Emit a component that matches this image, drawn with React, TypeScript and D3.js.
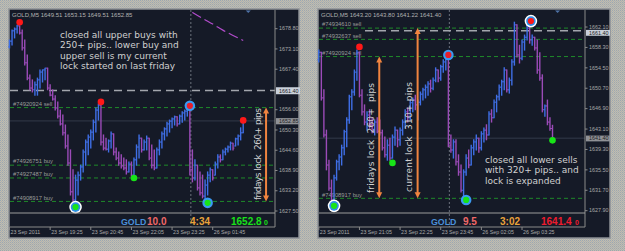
import React from "react";
import * as d3 from "d3";

const WIDTH = 625;
const HEIGHT = 251;

// ---------------- LEFT CHART (GOLD,M5 - friday lock) ----------------
const leftOpen = [1673.7, 1675.3, 1678.2, 1678.7, 1679.6, 1677.6, 1673.4, 1669.2, 1664.9, 1662.1,
  1661.6, 1663.0, 1664.4, 1666.6, 1667.2, 1667.7, 1662.1, 1660.1, 1659.0, 1656.5,
  1654.2, 1652.0, 1649.5, 1645.8, 1641.0, 1632.9, 1630.6, 1636.2, 1637.6, 1639.9,
  1644.1, 1646.9, 1648.3, 1649.7, 1652.5, 1655.9, 1657.3, 1646.9, 1645.2, 1644.9,
  1647.2, 1649.2, 1644.1, 1642.4, 1641.0, 1640.2, 1639.6, 1638.5, 1640.7, 1637.6,
  1641.9, 1645.5, 1648.0, 1644.7, 1646.9, 1648.0, 1642.4, 1640.4, 1639.6, 1644.7,
  1646.9, 1649.2, 1650.6, 1652.0, 1652.8, 1653.4, 1654.0, 1652.0, 1654.2, 1655.1,
  1655.6, 1657.3, 1639.1, 1636.8, 1640.4, 1634.0, 1632.6, 1631.7, 1634.8, 1637.6,
  1639.1, 1636.8, 1640.7, 1642.7, 1641.9, 1644.1, 1644.9, 1645.5, 1646.6, 1645.2,
  1647.8, 1648.6, 1649.51];
const leftHigh = [1675.6, 1678.4, 1679.0, 1679.8, 1679.6, 1678.4, 1675.6, 1671.4, 1665.8, 1664.4,
  1663.8, 1664.9, 1667.2, 1667.2, 1667.7, 1667.7, 1663.0, 1661.6, 1659.9, 1658.2,
  1655.9, 1654.5, 1651.7, 1648.9, 1644.7, 1639.1, 1637.6, 1638.5, 1640.4, 1644.7,
  1647.5, 1648.9, 1650.3, 1653.1, 1656.5, 1657.6, 1657.6, 1648.9, 1648.0, 1647.5,
  1649.7, 1649.2, 1645.2, 1644.1, 1643.3, 1642.4, 1641.9, 1641.3, 1641.3, 1642.4,
  1646.1, 1648.9, 1648.0, 1647.5, 1648.6, 1648.0, 1646.1, 1644.7, 1645.2, 1647.5,
  1649.7, 1650.9, 1652.5, 1653.1, 1653.7, 1654.2, 1654.0, 1654.5, 1655.4, 1655.9,
  1657.6, 1657.6, 1644.7, 1641.9, 1640.4, 1638.5, 1637.6, 1636.2, 1638.5, 1639.6,
  1639.1, 1641.3, 1643.3, 1643.3, 1644.7, 1645.2, 1645.8, 1646.9, 1646.6, 1648.0,
  1648.9, 1650.9, 1653.15];
const leftLow = [1673.4, 1674.2, 1676.2, 1677.6, 1677.3, 1672.8, 1668.6, 1664.4, 1661.6, 1661.0,
  1660.1, 1660.1, 1662.1, 1663.8, 1664.4, 1661.6, 1659.9, 1658.7, 1655.9, 1653.7,
  1651.7, 1648.9, 1645.2, 1640.4, 1632.0, 1629.2, 1628.6, 1632.0, 1636.2, 1638.5,
  1640.4, 1643.3, 1645.2, 1647.5, 1649.7, 1653.1, 1646.1, 1644.7, 1644.7, 1644.1,
  1645.2, 1643.3, 1641.9, 1640.4, 1639.6, 1639.1, 1637.9, 1638.5, 1637.3, 1637.6,
  1640.4, 1642.4, 1644.1, 1644.7, 1644.7, 1641.9, 1639.6, 1639.1, 1639.6, 1643.3,
  1645.2, 1647.5, 1648.6, 1649.7, 1650.9, 1651.7, 1651.4, 1652.0, 1652.5, 1653.1,
  1654.2, 1637.6, 1635.7, 1636.2, 1633.4, 1632.0, 1631.2, 1629.8, 1632.0, 1635.7,
  1636.2, 1637.6, 1639.6, 1641.3, 1641.9, 1643.3, 1644.1, 1644.7, 1644.7, 1645.8,
  1646.1, 1647.5, 1649.51];
const leftClose = [1675.3, 1678.2, 1678.7, 1679.6, 1677.6, 1673.4, 1669.2, 1664.9, 1662.1, 1661.6,
  1663.0, 1664.4, 1666.6, 1667.2, 1667.7, 1662.1, 1660.1, 1659.0, 1656.5, 1654.2,
  1652.0, 1649.5, 1645.8, 1641.0, 1632.9, 1630.6, 1636.2, 1637.6, 1639.9, 1644.1,
  1646.9, 1648.3, 1649.7, 1652.5, 1655.9, 1657.3, 1646.9, 1645.2, 1644.9, 1647.2,
  1649.2, 1644.1, 1642.4, 1641.0, 1640.2, 1639.6, 1638.5, 1640.7, 1637.6, 1641.9,
  1645.5, 1648.0, 1644.7, 1646.9, 1648.0, 1642.4, 1640.4, 1639.6, 1644.7, 1646.9,
  1649.2, 1650.6, 1652.0, 1652.8, 1653.4, 1654.0, 1652.0, 1654.2, 1655.1, 1655.6,
  1657.3, 1639.1, 1636.8, 1640.4, 1634.0, 1632.6, 1631.7, 1634.8, 1637.6, 1639.1,
  1636.8, 1640.7, 1642.7, 1641.9, 1644.1, 1644.9, 1645.5, 1646.6, 1645.2, 1647.8,
  1648.6, 1649.5, 1652.85];
// 1661.70 is hidden behind the 1661.40 price box in the reference
const leftPriceTicks = [1678.8, 1673.1, 1667.4, 1656.0, 1650.3, 1644.6, 1638.9, 1633.2, 1627.5];
const leftTimeIndex = [0, 16, 32, 48, 64, 80];
const leftTimeLabels = ["23 Sep 2011", "23 Sep 19:25", "23 Sep 20:45", "23 Sep 22:05", "23 Sep 23:25", "26 Sep 01:45"];
const leftOrderNames = ["#74920924 sell", "#74926751 buy", "#74927487 buy", "#74908917 buy"];
const leftOrderPrices = [1656.6, 1640.4, 1636.8, 1630.2];
const leftMarkerIndex = [4, 36, 26, 49, 71, 78, 92];
const leftMarkerPrice = [1680.6, 1658.2, 1628.6, 1636.8, 1657.1, 1629.8, 1653.0];
const leftMarkerKind = ["red", "red", "whiteGreen", "green", "blueRed", "blueGreen", "red"];
const leftMaIndex = [72, 76, 80, 84, 88, 92];
const leftMaValue = [1683.4, 1681.7, 1680.1, 1678.4, 1676.9, 1675.5];
const leftComment = ["closed all upper buys with", "250+ pips.. lower buy and", "upper sell is my current", "lock started on last friday"];

// ---------------- RIGHT CHART (GOLD,M5 - expanded lock) ----------------
const rightOpen = [1656.0, 1657.4, 1648.9, 1642.0, 1636.4, 1632.1, 1629.9, 1634.0, 1637.0, 1637.9,
  1639.6, 1642.6, 1644.8, 1649.1, 1650.0, 1653.7, 1657.4, 1649.4, 1646.3, 1644.4,
  1645.7, 1643.9, 1642.9, 1644.4, 1642.7, 1642.4, 1639.6, 1638.3, 1640.1, 1637.7,
  1641.6, 1642.9, 1641.1, 1642.9, 1644.4, 1646.3, 1645.2, 1648.0, 1648.5, 1647.6,
  1648.1, 1649.6, 1650.4, 1650.9, 1651.5, 1650.7, 1652.2, 1654.1, 1652.6, 1654.7,
  1655.6, 1656.1, 1640.1, 1639.2, 1640.7, 1637.0, 1635.1, 1631.7, 1635.1, 1637.7,
  1636.4, 1639.6, 1640.7, 1641.4, 1639.6, 1642.2, 1642.9, 1642.0, 1645.9, 1645.2,
  1648.1, 1649.1, 1650.9, 1651.9, 1654.1, 1650.4, 1652.2, 1655.6, 1662.5, 1656.9,
  1656.3, 1659.3, 1660.2, 1661.9, 1659.7, 1660.2, 1658.2, 1654.1, 1652.6, 1646.7,
  1647.4, 1644.4, 1643.2];
const rightHigh = [1657.8, 1657.4, 1650.4, 1642.9, 1637.3, 1633.6, 1634.5, 1637.3, 1638.3, 1640.1,
  1642.9, 1645.2, 1649.4, 1650.4, 1654.1, 1657.8, 1657.4, 1650.4, 1647.6, 1646.3,
  1646.7, 1645.2, 1644.8, 1645.2, 1644.8, 1642.9, 1641.6, 1641.1, 1641.4, 1642.0,
  1643.5, 1642.9, 1643.3, 1644.8, 1646.7, 1647.0, 1648.5, 1648.9, 1649.4, 1648.5,
  1650.0, 1650.7, 1651.3, 1651.9, 1652.2, 1652.6, 1654.5, 1654.1, 1655.0, 1656.0,
  1656.5, 1656.3, 1642.0, 1641.1, 1641.1, 1638.3, 1636.4, 1635.5, 1638.3, 1639.2,
  1640.1, 1641.1, 1642.0, 1641.4, 1642.6, 1643.3, 1643.9, 1646.3, 1646.7, 1648.5,
  1649.4, 1651.3, 1652.2, 1654.5, 1654.1, 1652.6, 1656.0, 1663.0, 1662.5, 1658.7,
  1659.7, 1660.6, 1662.5, 1662.8, 1660.6, 1660.2, 1659.7, 1657.3, 1653.2, 1647.6,
  1648.5, 1645.2, 1643.8];
const rightLow = [1655.6, 1648.5, 1641.6, 1635.5, 1631.7, 1629.3, 1629.5, 1633.6, 1635.5, 1636.4,
  1638.3, 1639.8, 1644.2, 1646.7, 1649.4, 1652.2, 1649.1, 1645.7, 1643.9, 1642.9,
  1643.3, 1642.4, 1642.0, 1642.4, 1642.0, 1639.2, 1637.9, 1637.3, 1637.3, 1637.7,
  1640.1, 1639.8, 1640.1, 1642.0, 1643.3, 1644.4, 1644.8, 1646.3, 1646.7, 1644.8,
  1647.6, 1648.5, 1648.9, 1649.4, 1650.0, 1650.4, 1651.9, 1651.9, 1652.2, 1653.7,
  1654.1, 1639.8, 1638.8, 1637.7, 1636.4, 1634.5, 1631.4, 1630.3, 1634.5, 1635.9,
  1636.4, 1638.3, 1639.2, 1638.8, 1639.2, 1640.7, 1641.1, 1642.0, 1644.4, 1645.2,
  1646.3, 1648.5, 1649.4, 1650.4, 1650.0, 1649.8, 1651.3, 1655.0, 1656.5, 1655.4,
  1656.0, 1657.8, 1659.7, 1659.1, 1658.7, 1657.8, 1653.5, 1652.2, 1646.3, 1645.5,
  1643.9, 1642.9, 1641.22];
const rightClose = [1657.4, 1648.9, 1642.0, 1636.4, 1632.1, 1629.9, 1634.0, 1637.0, 1637.9, 1639.6,
  1642.6, 1644.8, 1649.1, 1650.0, 1653.7, 1657.4, 1649.4, 1646.3, 1644.4, 1645.7,
  1643.9, 1642.9, 1644.4, 1642.7, 1642.4, 1639.6, 1638.3, 1640.1, 1637.7, 1641.6,
  1642.9, 1641.1, 1642.9, 1644.4, 1646.3, 1645.2, 1648.0, 1648.5, 1647.6, 1648.1,
  1649.6, 1650.4, 1650.9, 1651.5, 1650.7, 1652.2, 1654.1, 1652.6, 1654.7, 1655.6,
  1656.1, 1640.1, 1639.2, 1640.7, 1637.0, 1635.1, 1631.7, 1635.1, 1637.7, 1636.4,
  1639.6, 1640.7, 1641.4, 1639.6, 1642.2, 1642.9, 1642.0, 1645.9, 1645.2, 1648.1,
  1649.1, 1650.9, 1651.9, 1654.1, 1650.4, 1652.2, 1655.6, 1662.5, 1656.9, 1656.3,
  1659.3, 1660.2, 1661.9, 1659.7, 1660.2, 1658.2, 1654.1, 1652.6, 1646.7, 1647.4,
  1644.4, 1643.2, 1641.4];
const rightPriceTicks = [1662.1, 1658.3, 1654.5, 1650.7, 1646.9, 1643.1, 1639.3, 1635.5, 1631.7, 1627.9];
const rightTimeIndex = [0, 16, 32, 48, 64, 80];
const rightTimeLabels = ["23 Sep 2011", "23 Sep 21:05", "23 Sep 22:25", "23 Sep 23:45", "26 Sep 02:05", "26 Sep 03:25"];
const rightOrderNames = ["#74934610 sell", "#74932637 sell", "#74920924 sell", "#74908917 buy"];
const rightOrderPrices = [1661.9, 1659.8, 1656.6, 1630.2];
const rightMarkerIndex = [16, 6, 29, 51, 58, 83.5, 92];
const rightMarkerPrice = [1658.4, 1628.8, 1636.8, 1656.9, 1629.9, 1663.2, 1641.0];
const rightMarkerKind = ["red", "whiteGreen", "green", "blueRed", "blueGreen", "whiteRed", "green"];
const rightComment = ["closed all lower sells", "with 320+ pips.. and", "lock is expanded"];

const BG = "#151a27";
const BLUE = "#3f6fe6";
const PURPLE = "#9b4bb8";
const GREEN_LINE = "#1f8a2a";
const TXT = "#d0d0d0";
const AXIS_TXT = "#a9a9a9";
const ARROW = "#f0843f";
const SMALL = "'Liberation Sans', Arial, sans-serif";
const SANS = "'DejaVu Sans', Verdana, sans-serif";

type Box = { price: number; label: string; light: boolean; top: number; h: number; base: number };

type PanelProps = {
  px: number; pw: number; axisX: number;
  xRange: [number, number]; yDomain: [number, number];
  open: number[]; high: number[]; low: number[]; close: number[];
  priceTicks: number[]; timeIndex: number[]; timeLabels: string[];
  header: string;
  orderNames: string[]; orderPrices: number[];
  lockLevel: number; lockStart: number;
  boxes: Box[];
  markerIndex: number[]; markerPrice: number[]; markerKind: string[];
  separatorIndex: number;
  arrows: { idx: number; top: number; bottom: number }[];
  vtexts: { x: number; y: number; text: string; len: number }[];
  comment: string[]; commentX: number; commentY: number; commentDy: number;
  info: { t: string; x: number; color: string; size: number }[];
  maIndex?: number[]; maValue?: number[];
};

function Marker({ x, y, kind }: { x: number; y: number; kind: string }) {
  if (kind === "red") return <circle cx={x} cy={y} r={3.3} fill="#ff1818" />;
  if (kind === "green") return <circle cx={x} cy={y} r={3.3} fill="#18e418" />;
  if (kind === "whiteGreen" || kind === "whiteRed")
    return (
      <g>
        <circle cx={x} cy={y} r={6.3} fill="#ffffff" />
        <circle cx={x} cy={y} r={4.8} fill="#2f8fe8" />
        <circle cx={x} cy={y} r={3.1} fill={kind === "whiteGreen" ? "#18e418" : "#ff1818"} />
      </g>
    );
  return (
    <g>
      <circle cx={x} cy={y} r={5.3} fill="#3a9af2" />
      <circle cx={x} cy={y} r={3.1} fill={kind === "blueGreen" ? "#18e418" : "#e81f2a"} />
    </g>
  );
}

function Panel(p: PanelProps) {
  const top = 10, bottom = 227, infoY = 213;
  const xs = d3.scaleLinear().domain([0, p.close.length - 1]).range(p.xRange);
  const ys = d3.scaleLinear().domain(p.yDomain).range([bottom, top]);
  const left = p.px + 1;
  const ma = p.maIndex && p.maValue
    ? d3.line<number>().x((d) => xs(d)).y((_, i) => ys(p.maValue![i])).curve(d3.curveMonotoneX)(p.maIndex)
    : null;
  const last = p.close[p.close.length - 1];
  return (
    <g>
      <rect x={p.px} y={9} width={p.pw} height={229} fill={BG} stroke="#8d9196" strokeWidth={1.5} />
      {/* period separator */}
      <line x1={xs(p.separatorIndex) + 1} x2={xs(p.separatorIndex) + 1} y1={top} y2={bottom}
        stroke="#6c717c" strokeWidth={1} strokeDasharray="2,2" />
      {/* order lines */}
      {p.orderPrices.map((v, i) => (
        <g key={"o" + i}>
          <line x1={left} x2={p.axisX} y1={ys(v)} y2={ys(v)} stroke={GREEN_LINE} strokeWidth={1} strokeDasharray="4,3" />
          <text x={p.px + 4} y={ys(v) - 1.8} fontFamily={SMALL} fontSize={5.8} fill="#9a9a9a">{p.orderNames[i]}</text>
        </g>
      ))}
      {/* lock level */}
      <line x1={p.lockStart} x2={p.axisX} y1={ys(p.lockLevel)} y2={ys(p.lockLevel)} stroke="#a3a6ad"
        strokeWidth={1.4} strokeDasharray="8,5" />
      {/* bid line */}
      <line x1={left} x2={p.axisX} y1={ys(last)} y2={ys(last)} stroke="#333a4a" strokeWidth={1} />
      {/* bars */}
      {p.close.map((c, i) => {
        const x = xs(i);
        const o = Math.max(p.low[i], Math.min(p.high[i], p.open[i]));
        const col = c >= p.open[i] ? BLUE : PURPLE;
        return (
          <g key={"b" + i} stroke={col}>
            <line x1={x} x2={x} y1={ys(p.high[i]) - 0.5} y2={ys(p.low[i]) + 0.5} strokeWidth={1.4} />
            <line x1={x - 1.4} x2={x} y1={ys(o)} y2={ys(o)} strokeWidth={1} />
            <line x1={x} x2={x + 1.4} y1={ys(c)} y2={ys(c)} strokeWidth={1} />
          </g>
        );
      })}
      {ma && <path d={ma} fill="none" stroke="#b24ccc" strokeWidth={1.2} strokeDasharray="10,4" />}
      {/* markers */}
      {p.markerIndex.map((mi, i) => (
        <Marker key={"m" + i} x={xs(mi)} y={ys(p.markerPrice[i])} kind={p.markerKind[i]} />
      ))}
      {/* arrows */}
      {p.arrows.map((a, i) => {
        const x = xs(a.idx);
        const y1 = ys(a.top), y2 = ys(a.bottom);
        return (
          <g key={"a" + i} fill={ARROW} stroke="none">
            <line x1={x} x2={x} y1={y1 + 4} y2={y2 - 4} stroke={ARROW} strokeWidth={2} />
            <path d={`M${x},${y1} L${x - 3},${y1 + 6} L${x + 3},${y1 + 6} Z`} />
            <path d={`M${x},${y2} L${x - 3},${y2 - 6} L${x + 3},${y2 - 6} Z`} />
          </g>
        );
      })}
      {/* vertical texts */}
      {p.vtexts.map((v, i) => (
        <text key={"v" + i} transform={`translate(${v.x},${v.y}) rotate(-90)`} fontFamily={SANS}
          fontSize={9} fill={TXT} textLength={v.len} lengthAdjust="spacing" style={{ whiteSpace: "pre" }}>
          {v.text}
        </text>
      ))}
      {/* comment */}
      {p.comment.map((t, i) => (
        <text key={"c" + i} x={p.commentX} y={p.commentY + i * p.commentDy} fontFamily={SANS} fontSize={9} fill={TXT}>
          {t}
        </text>
      ))}
      {/* header */}
      <text x={p.px + 3} y={17} fontFamily={SMALL} fontSize={6} fill="#b2b2b2">{p.header}</text>
      {/* chart shift marker */}
      <path d={`M${xs(94) - 2.5},${10.5} L${xs(94) + 2.5},${10.5} L${xs(94)},${13}Z`} fill="#4f73a8" />
      {/* frame lines */}
      <line x1={p.axisX} x2={p.axisX} y1={top} y2={bottom} stroke="#8a8a8a" strokeWidth={1} />
      <line x1={left} x2={p.axisX} y1={bottom} y2={bottom} stroke="#8a8a8a" strokeWidth={1} />
      <line x1={left} x2={p.axisX} y1={infoY} y2={infoY} stroke="#9c9c9c" strokeWidth={1} />
      {/* price axis */}
      {p.priceTicks.map((t, i) => (
        <g key={"t" + i}>
          <line x1={p.axisX} x2={p.axisX + 2.5} y1={ys(t)} y2={ys(t)} stroke="#8a8a8a" />
          <text x={p.axisX + 4} y={ys(t) + 1.7} fontFamily={SMALL} fontSize={5.4} fill={AXIS_TXT}>{t.toFixed(2)}</text>
        </g>
      ))}
      {p.boxes.map((b, i) => (
        <g key={"bx" + i}>
          <rect x={p.axisX + 1} y={ys(b.price) + b.top} width={24} height={b.h} fill={b.light ? "#c9d0da" : "#8f9196"} />
          <text x={p.axisX + 4} y={ys(b.price) + b.base} fontFamily={SMALL} fontSize={5.4} fill="#202020">{b.label}</text>
        </g>
      ))}
      {/* time axis */}
      {p.timeIndex.map((ti, i) => (
        <g key={"x" + i}>
          <line x1={xs(ti)} x2={xs(ti)} y1={bottom} y2={bottom + 3} stroke="#8a8a8a" />
          <text x={xs(ti) + 1} y={234} fontFamily={SMALL} fontSize={5.3} fill={AXIS_TXT}>{p.timeLabels[i]}</text>
        </g>
      ))}
      {/* info bar */}
      {p.info.map((f, i) => (
        <text key={"f" + i} x={f.x} y={224.5} fontFamily={SMALL} fontWeight="bold" fontSize={f.size} fill={f.color}>{f.t}</text>
      ))}
    </g>
  );
}

export default function App() {
  return (
    <svg width={WIDTH} height={HEIGHT} style={{ position: "absolute", left: 0, top: 0, display: "block" }}>
      <defs>
        <pattern id="dither" width="2" height="2" patternUnits="userSpaceOnUse">
          <rect width="2" height="2" fill="#c4bdac" />
          <rect width="1" height="1" fill="#9aa7b3" />
          <rect x="1" y="1" width="1" height="1" fill="#a9b1b5" />
        </pattern>
      </defs>
      <rect width={WIDTH} height={HEIGHT} fill="url(#dither)" />
      <Panel
        px={9} pw={290} axisX={275}
        xRange={[9.5, 243.2]} yDomain={[1623.0, 1684.06]}
        open={leftOpen} high={leftHigh} low={leftLow} close={leftClose}
        priceTicks={leftPriceTicks} timeIndex={leftTimeIndex} timeLabels={leftTimeLabels}
        header="GOLD,M5  1649.51 1653.15 1649.51 1652.85"
        orderNames={leftOrderNames} orderPrices={leftOrderPrices}
        lockLevel={1661.4} lockStart={10}
        boxes={[
          { price: 1661.4, label: "1661.40", light: true, top: -3.3, h: 7, base: 2.1 },
          { price: 1652.85, label: "1652.85", light: false, top: -2.8, h: 6.2, base: 2.0 },
        ]}
        markerIndex={leftMarkerIndex} markerPrice={leftMarkerPrice} markerKind={leftMarkerKind}
        separatorIndex={71}
        arrows={[{ idx: 101, top: 1656.6, bottom: 1630.2 }]}
        vtexts={[{ x: 261, y: 200, text: "fridays lock  260+ pips", len: 92 }]}
        comment={leftComment} commentX={60} commentY={37.5} commentDy={10.5}
        info={[
          { t: "GOLD", x: 121, color: "#4a90d8", size: 8.8 },
          { t: "10.0", x: 147, color: "#f06868", size: 10 },
          { t: "4:34", x: 190, color: "#e9a23b", size: 10 },
          { t: "1652.8", x: 231, color: "#19e019", size: 10 },
          { t: "0", x: 264, color: "#19e019", size: 7 },
        ]}
        maIndex={leftMaIndex} maValue={leftMaValue}
      />
      <Panel
        px={318} pw={292} axisX={585}
        xRange={[318.8, 552.5]} yDomain={[1624.86, 1665.27]}
        open={rightOpen} high={rightHigh} low={rightLow} close={rightClose}
        priceTicks={rightPriceTicks} timeIndex={rightTimeIndex} timeLabels={rightTimeLabels}
        header="GOLD,M5  1643.20 1643.80 1641.22 1641.40"
        orderNames={rightOrderNames} orderPrices={rightOrderPrices}
        lockLevel={1661.4} lockStart={365}
        boxes={[
          { price: 1661.4, label: "1661.40", light: true, top: -0.9, h: 5.9, base: 4.1 },
          { price: 1641.4, label: "1641.40", light: false, top: -2.6, h: 5.8, base: 1.9 },
        ]}
        markerIndex={rightMarkerIndex} markerPrice={rightMarkerPrice} markerKind={rightMarkerKind}
        separatorIndex={51}
        arrows={[{ idx: 23.8, top: 1656.6, bottom: 1630.2 }, { idx: 38.9, top: 1661.9, bottom: 1630.2 }]}
        vtexts={[
          { x: 374, y: 193, text: "fridays lock  260+  pips", len: 110 },
          { x: 412, y: 192, text: "current lock  310+ pips", len: 110 },
        ]}
        comment={rightComment} commentX={485} commentY={162.5} commentDy={10.8}
        info={[
          { t: "GOLD", x: 431, color: "#4a90d8", size: 8.8 },
          { t: "9.5", x: 463, color: "#f06868", size: 10 },
          { t: "3:02", x: 500, color: "#e9a23b", size: 10 },
          { t: "1641.4", x: 541, color: "#ee1c2e", size: 10 },
          { t: "0", x: 575, color: "#ee1c2e", size: 7 },
        ]}
      />
    </svg>
  );
}
